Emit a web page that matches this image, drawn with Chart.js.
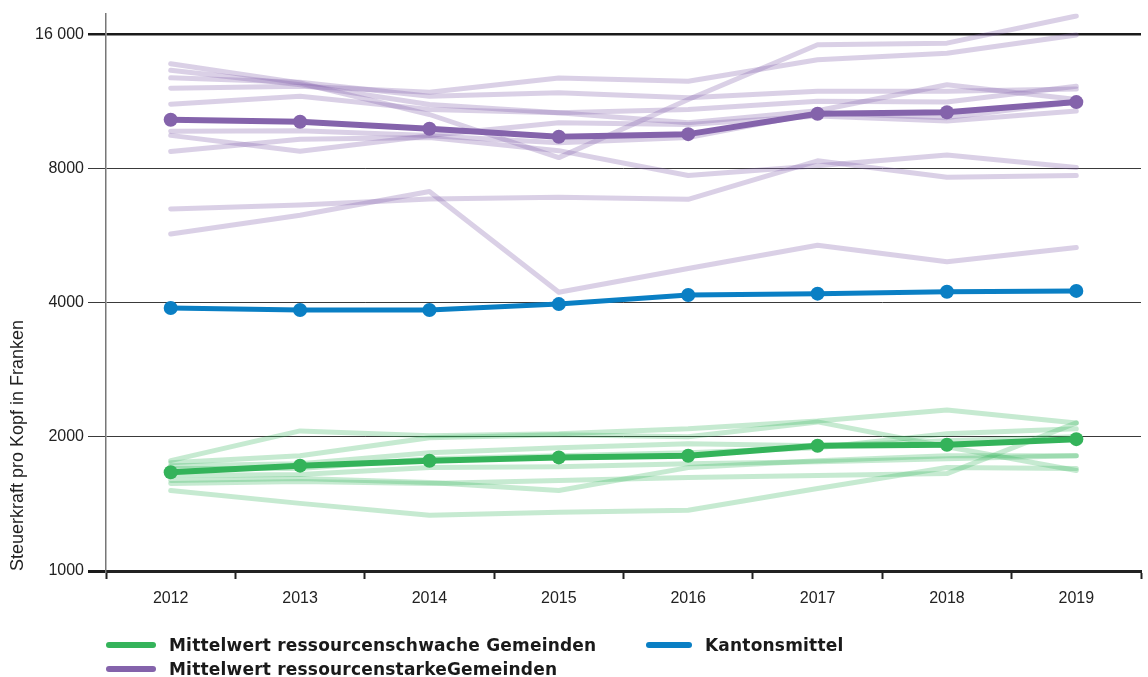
<!DOCTYPE html>
<html>
<head>
<meta charset="utf-8">
<script src="https://cdn.jsdelivr.net/npm/chart.js@4.4.0/dist/chart.umd.min.js"></script>
<style>
  body { margin: 0; background: #fff; }
  #wrap { position: relative; width: 1148px; height: 677px; overflow: hidden; }
  #legend { position: absolute; left: 0; top: 0; font-family: "DejaVu Sans", sans-serif; font-weight: bold; font-size: 17px; letter-spacing: 0.2px; color: #1a1a1a; }
  .lg-item { position: absolute; display: flex; align-items: center; white-space: nowrap; height: 20px; }
  .lg-swatch { height: 6px; border-radius: 3px; }
</style>
</head>
<body>
<div id="wrap">
  <canvas id="steuerkraft_chart" width="1148" height="677"></canvas>
  <div id="legend"></div>
</div>
<script>
// ---- data (Steuerkraft pro Kopf, Franken)
const years         = ['2012', '2013', '2014', '2015', '2016', '2017', '2018', '2019'];
const kantonsmittel = [3890, 3850, 3850, 3970, 4160, 4190, 4230, 4250];
const mittelStark   = [10290, 10180, 9820, 9420, 9550, 10610, 10690, 11270];
const mittelSchwach = [1665, 1723, 1768, 1798, 1814, 1910, 1920, 1976];

// einzelne ressourcenstarke Gemeinden
const gemeindenStark = [
    [13740, 12440, 10570, 8460, 11420, 15150, 15280, 17580],
    [12110, 12230, 11860, 12760, 12550, 14030, 14510, 15940],
    [12780, 12480, 11620, 11820, 11520, 11920, 11920, 12060],
    [13280, 12330, 11130, 10670, 10850, 11320, 11270, 12230],
    [11150, 11620, 10850, 10670, 10130, 10780, 12330, 11420],
    [9690, 9720, 9480, 10130, 10040, 10490, 10220, 10760],
    [9490, 8740, 9470, 9140, 9380, 10670, 10400, 11280],
    [8730, 9300, 9380, 8770, 7710, 8110, 8570, 8040],
    [6490, 6620, 6830, 6890, 6820, 8320, 7640, 7710],
    [5700, 6280, 7100, 4220, 4770, 5380, 4940, 5320]
];

// einzelne ressourcenschwache Gemeinden
const gemeindenSchwach = [
    [1768, 2062, 2010, 2031, 2084, 2171, 2297, 2149],
    [1750, 1814, 1990, 2021, 2000, 2160, 1900, 1680],
    [1723, 1741, 1842, 1890, 1929, 1910, 1959, 2000],
    [1697, 1697, 1786, 1814, 1842, 1890, 2031, 2084],
    [1637, 1646, 1706, 1714, 1741, 1759, 1786, 1814],
    [1596, 1612, 1579, 1516, 1706, 1768, 1814, 1814],
    [1571, 1587, 1571, 1596, 1620, 1637, 1654, 2149],
    [1516, 1418, 1333, 1354, 1368, 1531, 1706, 1697]
];

const yTicks      = [1000, 2000, 4000, 8000, 16000];
const yTickLabels = ['1000', '2000', '4000', '8000', '16 000'];

const colGreen  = '#34b35a';
const colBlue   = '#0a7fc4';
const colPurple = '#8463ab';

const legendItems = [
    { label: 'Mittelwert ressourcenschwache Gemeinden', color: colGreen,  left: 106, top: 635, width: 50 },
    { label: 'Kantonsmittel',                          color: colBlue,   left: 646, top: 635, width: 46 },
    { label: 'Mittelwert ressourcenstarkeGemeinden',    color: colPurple, left: 106, top: 659, width: 50 }
];

function thinLine(values, color) {
    return {
        data: values,
        borderColor: color,
        borderWidth: 5,
        borderCapStyle: 'round',
        borderJoinStyle: 'round',
        pointRadius: 0,
        tension: 0,
        order: 2
    };
}

function meanLine(values, color, width) {
    return {
        data: values,
        borderColor: color,
        backgroundColor: color,
        borderWidth: width,
        borderJoinStyle: 'round',
        pointRadius: 7,
        pointBorderWidth: 0,
        pointBackgroundColor: color,
        tension: 0,
        order: 0
    };
}

// ---- chart
const datasets = [
    meanLine(mittelSchwach, colGreen, 6),
    meanLine(kantonsmittel, colBlue, 5),
    meanLine(mittelStark, colPurple, 6)
];
gemeindenStark.forEach(v => datasets.push(thinLine(v, 'rgba(132, 99, 171, 0.3)')));
gemeindenSchwach.forEach(v => datasets.push(thinLine(v, 'rgba(52, 179, 90, 0.28)')));

const ctx = document.getElementById('steuerkraft_chart').getContext('2d');
new Chart(ctx, {
    type: 'line',
    data: { labels: years, datasets: datasets },
    options: {
        responsive: false,
        animation: false,
        devicePixelRatio: 1,
        layout: { padding: { top: 10, right: -3, bottom: 0, left: 0 } },
        plugins: {
            legend: { display: false },
            tooltip: { enabled: false }
        },
        scales: {
            x: {
                offset: true,
                grid: { offset: true, drawOnChartArea: false, drawTicks: true, tickLength: 8, tickWidth: 2, tickColor: '#222' },
                border: { display: true, color: '#222', width: 3 },
                ticks: { color: '#222', padding: 10, maxRotation: 0, font: { family: 'Liberation Sans', size: 16 } },
                afterFit: s => { s.height = 106; }
            },
            y: {
                type: 'logarithmic',
                min: 1000,
                max: 17800,
                afterBuildTicks: s => { s.ticks = yTicks.map(v => ({ value: v })); },
                grid: {
                    drawTicks: true,
                    tickLength: 18,
                    color: c => (c.tick && (c.tick.value === 16000 || c.tick.value === 1000)) ? '#1a1a1a' : '#3a3a3a',
                    lineWidth: c => {
                        if (!c.tick) return 1;
                        if (c.tick.value === 1000) return 3;
                        if (c.tick.value === 16000) return 2.5;
                        return 1;
                    }
                },
                border: { display: true, color: '#777', width: 1.5 },
                ticks: {
                    padding: 4,
                    color: '#222',
                    font: { family: 'Liberation Sans', size: 16 },
                    callback: (v, i) => yTickLabels[i]
                },
                title: {
                    display: true,
                    text: 'Steuerkraft pro Kopf in Franken',
                    align: 'start',
                    color: '#222',
                    font: { family: 'Liberation Sans', size: 18 },
                    padding: { top: 7, bottom: 0 }
                },
                afterFit: s => { s.width = 106; }
            }
        }
    }
});

// ---- legend
let temp = ``;
legendItems.forEach(item => {
    temp += `<div class="lg-item" style="left:` + item.left + `px;top:` + item.top + `px">
                <div class="lg-swatch" style="width:` + item.width + `px;background-color:` + item.color + `"></div>
                <span style="margin-left:13px">` + item.label + `</span>
             </div>`;
});
document.getElementById('legend').innerHTML = temp;
</script>
</body>
</html>
